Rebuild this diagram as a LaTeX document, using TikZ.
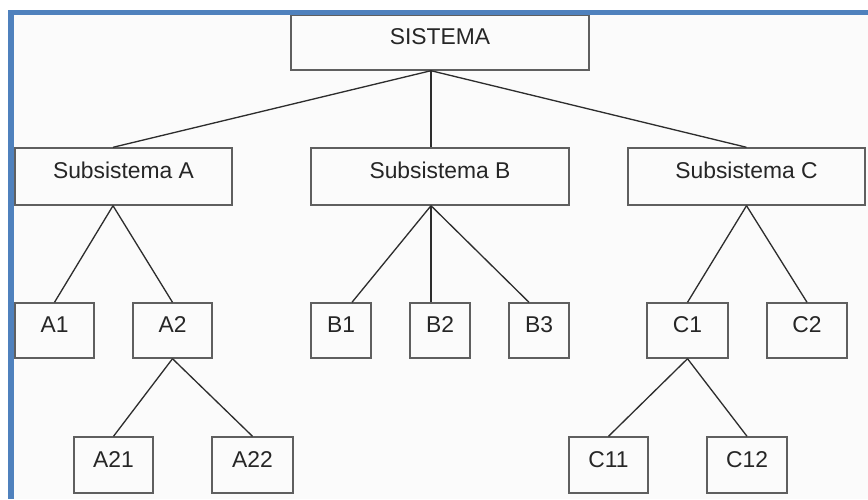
\documentclass[tikz,border=0pt]{standalone}
\usepackage{fontspec}
\setmainfont{Liberation Sans}
\usepackage{xcolor}
\usepackage{tikz}
\definecolor{frame}{RGB}{79, 129, 189}
\definecolor{boxline}{RGB}{95, 95, 95}
\definecolor{edge}{RGB}{45, 45, 45}
\definecolor{paper}{RGB}{251, 251, 251}

\begin{document}
\begin{tikzpicture}[
    block/.style={rectangle, draw=boxline, line width=0.8pt, fill=paper,
        minimum height=1.1cm, inner sep=0pt, text height=0.33cm,
        text depth=0.24cm, font=\fontsize{13}{15}\selectfont, text=black!85},
    link/.style={draw=edge, line width=0.75pt}
]

\useasboundingbox (0,0) rectangle (17.36,-9.98);
\fill[paper] (0.16,-0.2) rectangle (17.36,-9.98);

% top level
\node[block, minimum width=5.96cm] (sistema) at (8.8,-0.85) {SISTEMA};

% subsystems
\node[block, minimum width=4.34cm, minimum height=1.14cm] (subA) at (2.47,-3.53) {Subsistema A};
\node[block, minimum width=5.16cm, minimum height=1.14cm] (subB) at (8.8,-3.53) {Subsistema B};
\node[block, minimum width=4.74cm, minimum height=1.14cm] (subC) at (14.93,-3.53) {Subsistema C};

% second row
\node[block, minimum width=1.58cm] (a1) at (1.09,-6.61) {A1};
\node[block, minimum width=1.58cm] (a2) at (3.45,-6.61) {A2};
\node[block, minimum width=1.2cm] (b1) at (6.82,-6.61) {B1};
\node[block, minimum width=1.2cm] (b2) at (8.8,-6.61) {B2};
\node[block, minimum width=1.2cm] (b3) at (10.78,-6.61) {B3};
\node[block, minimum width=1.62cm] (c1) at (13.75,-6.61) {C1};
\node[block, minimum width=1.6cm] (c2) at (16.14,-6.61) {C2};

% third row
\node[block, minimum width=1.58cm, minimum height=1.12cm] (a21) at (2.27,-9.3) {A21};
\node[block, minimum width=1.62cm, minimum height=1.12cm] (a22) at (5.05,-9.3) {A22};
\node[block, minimum width=1.58cm, minimum height=1.12cm] (c11) at (12.17,-9.3) {C11};
\node[block, minimum width=1.6cm, minimum height=1.12cm] (c12) at (14.94,-9.3) {C12};

% branches
\draw[link] ([xshift=-0.18cm]sistema.south) -- ([xshift=-0.21cm]subA.north);
\draw[link] ([xshift=-0.18cm]sistema.south) -- ([xshift=-0.18cm]subB.north);
\draw[link] ([xshift=-0.18cm]sistema.south) -- (subC.north);

\foreach \x in {a1,a2} {
    \draw[link] ([xshift=-0.21cm]subA.south) -- (\x.north);
}
\draw[link] ([xshift=-0.18cm]subB.south) -- ([xshift=0.22cm]b1.north);
\draw[link] ([xshift=-0.18cm]subB.south) -- ([xshift=-0.18cm]b2.north);
\draw[link] ([xshift=-0.18cm]subB.south) -- ([xshift=-0.2cm]b3.north);
\foreach \x in {c1,c2} {
    \draw[link] (subC.south) -- (\x.north);
}
\foreach \x in {a21,a22} {
    \draw[link] (a2.south) -- (\x.north);
}
\foreach \x in {c11,c12} {
    \draw[link] (c1.south) -- (\x.north);
}

% blue frame on top and left
\fill[frame] (0.16,-0.2) rectangle (17.36,-0.3);
\fill[frame] (0.16,-0.2) rectangle (0.28,-9.98);

\end{tikzpicture}
\end{document}
